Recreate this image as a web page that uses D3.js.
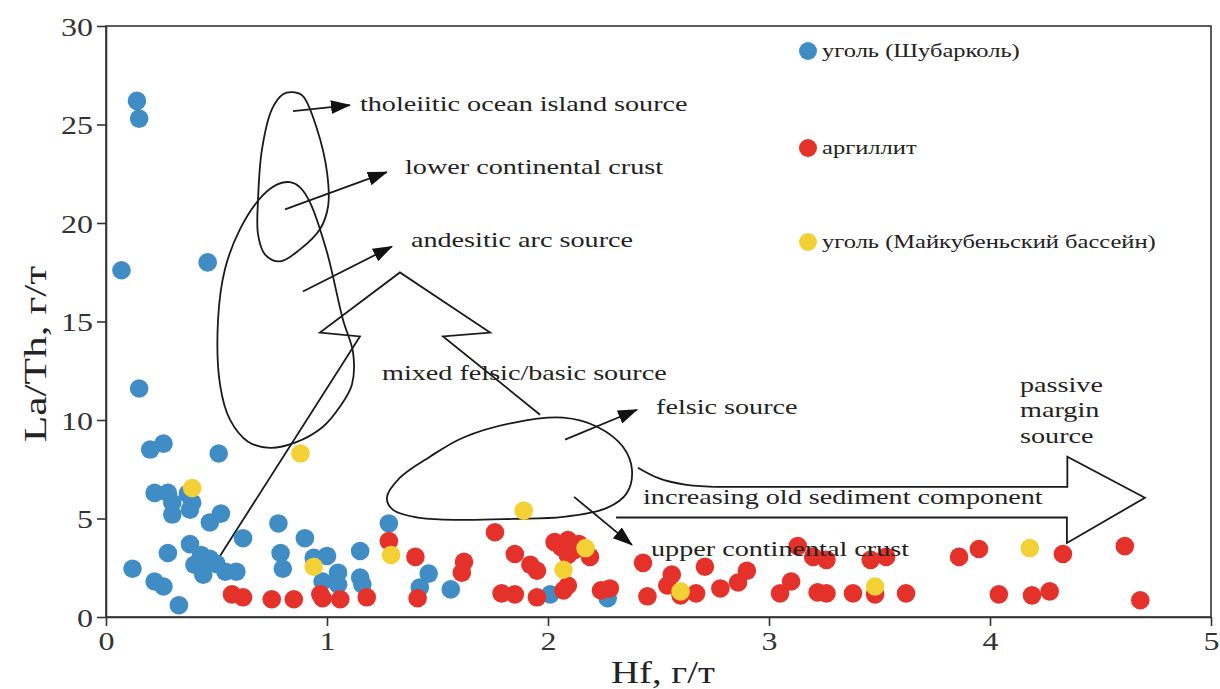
<!DOCTYPE html>
<html>
<head>
<meta charset="utf-8">
<script src="https://cdn.jsdelivr.net/npm/d3@7"></script>
<style>
	body {margin:0; background:#fff;}
	text {font-family:"Liberation Serif","Times New Roman",serif; fill:#222;}
</style>
</head>
<body>
<script>

//axis ticks
var xTicks = [0, 1, 2, 3, 4, 5],
	yTicks = [0, 5, 10, 15, 20, 25, 30];

//уголь (Шубарколь) - Hf and La/Th
var shubHf   = [0.14, 0.15, 0.07, 0.46, 0.15, 0.20, 0.26, 0.51, 0.22, 0.28, 0.37, 0.30, 0.39, 0.30, 0.38, 0.47, 0.52,
	0.62, 0.78, 0.90, 0.28, 0.38, 0.43, 0.47, 0.40, 0.44, 0.54, 0.59, 0.12, 0.22, 0.26, 0.33, 0.79, 0.80, 0.94,
	1.00, 1.05, 0.98, 1.05, 1.15, 1.15, 1.16, 0.50, 1.28, 1.46, 1.42, 1.56, 2.01, 2.27];
var shubLaTh = [26.2, 25.3, 17.6, 18.0, 11.6, 8.5, 8.8, 8.3, 6.3, 6.3, 6.25, 5.8, 5.8, 5.2, 5.45, 4.8, 5.25,
	4.0, 4.75, 4.0, 3.25, 3.7, 3.15, 2.95, 2.65, 2.15, 2.3, 2.3, 2.45, 1.8, 1.55, 0.6, 3.25, 2.45, 3.0,
	3.1, 2.25, 1.8, 1.65, 3.35, 2.0, 1.65, 2.7, 4.75, 2.2, 1.5, 1.4, 1.15, 0.95];

//аргиллит
var argHf   = [0.57, 0.62, 0.75, 0.85, 0.97, 0.98, 1.06, 1.18, 1.28, 1.40, 1.41, 1.62, 1.61, 1.76, 1.85, 1.92, 1.95,
	1.79, 1.85, 1.95, 2.07, 2.09, 2.03, 2.09, 2.09, 2.12, 2.19, 2.06, 2.14, 2.24, 2.28, 2.43, 2.45, 2.56, 2.54,
	2.60, 2.67, 2.71, 2.78, 2.86, 2.90, 3.05, 3.10, 3.13, 3.20, 3.26, 3.46, 3.53, 3.22, 3.26, 3.38, 3.48, 3.62,
	3.86, 3.95, 4.04, 4.19, 4.27, 4.33, 4.61, 4.68];
var argLaTh = [1.15, 1.0, 0.9, 0.9, 1.15, 0.95, 0.9, 1.0, 3.85, 3.05, 0.95, 2.8, 2.25, 4.3, 3.2, 2.65, 2.35,
	1.2, 1.15, 1.0, 1.35, 1.6, 3.8, 3.9, 3.15, 3.4, 3.05, 3.55, 3.7, 1.35, 1.45, 2.75, 1.05, 2.15, 1.6,
	1.1, 1.2, 2.55, 1.45, 1.75, 2.35, 1.2, 1.8, 3.6, 3.05, 2.9, 2.9, 3.05, 1.25, 1.2, 1.2, 1.15, 1.2,
	3.05, 3.45, 1.15, 1.1, 1.3, 3.2, 3.6, 0.85];

//уголь (Майкубеньский бассейн)
var maikHf   = [0.39, 0.88, 0.94, 1.29, 1.89, 2.07, 2.17, 2.60, 3.48, 4.18];
var maikLaTh = [6.55, 8.3, 2.55, 3.15, 5.4, 2.4, 3.5, 1.3, 1.55, 3.5];

var seriesNames  = ["уголь (Шубарколь)", "аргиллит", "уголь (Майкубеньский бассейн)"],
	seriesColors = ["#3f8dc4", "#e4322b", "#f3d135"];

//field outlines (Hf, La/Th)
var tholeiiticLoop = [[0.846,26.64],[0.891,26.44],[0.955,24.76],[1.000,22.58],[1.005,20.85],[0.968,19.68],
	[0.878,18.66],[0.787,18.05],[0.719,18.41],[0.688,19.42],[0.688,21.20],[0.706,23.75],[0.751,25.78],[0.801,26.54]];
var andesiticLoop = [[0.833,22.07],[0.878,21.81],[0.923,21.05],[1.000,18.51],[1.072,15.10],[1.118,13.42],
	[1.113,11.80],[1.059,10.68],[0.982,9.66],[0.855,8.85],[0.742,8.59],[0.643,8.90],[0.561,10.02],[0.516,11.80],
	[0.507,15.10],[0.538,17.64],[0.606,19.68],[0.706,21.36],[0.778,21.97]];
var felsicLoop = [[1.271,6.05],[1.330,7.07],[1.466,8.14],[1.615,9.10],[1.842,9.86],[2.068,10.12],[2.222,9.66],
	[2.339,8.64],[2.380,7.47],[2.357,6.30],[2.267,5.54],[2.068,5.08],[1.842,4.98],[1.615,4.93],[1.421,5.03],[1.299,5.44]];
var mixedArrow = [[0.484,2.54],[1.149,14.24],[0.968,14.44],[1.330,17.49],[1.738,14.44],[1.525,14.24],[1.964,10.27]];
var passiveCurve = [[2.407,7.58],[2.50,7.05],[2.62,6.72],[2.75,6.61]];
var passiveArrow = [[2.75,6.61],[4.350,6.61],[4.350,8.14],[4.701,6.05],[4.348,3.76],[4.348,5.05],[2.308,5.05]];

//small pointer arrows [from, to]
var pointers = [
	[[0.846,25.68],[1.104,25.98]],
	[[0.810,20.69],[1.271,22.58]],
	[[0.891,16.52],[1.294,18.81]],
	[[2.077,9.00],[2.403,10.52]],
	[[2.118,6.10],[2.380,3.66]]
];

//annotation texts
var notes = [
	{t:"tholeiitic ocean island source", x:1.149, y:25.68},
	{t:"lower continental crust", x:1.353, y:22.47},
	{t:"andesitic arc source", x:1.380, y:18.76},
	{t:"mixed felsic/basic source", x:1.249, y:12.05},
	{t:"felsic source", x:2.489, y:10.32},
	{t:"passive", x:4.136, y:11.4},
	{t:"margin", x:4.136, y:10.15},
	{t:"source", x:4.136, y:8.85},
	{t:"increasing old sediment component", x:2.430, y:5.75},
	{t:"upper continental crust", x:2.466, y:3.10}
];

var W = 1220, H = 689,
	stretchK = 1.28;

var svg = d3.select("body").append("svg")
	.attr("width", W)
	.attr("height", H);

var xScale = d3.scaleLinear().domain([0, 5]).range([106, 1211]),
	yScale = d3.scaleLinear().domain([0, 30]).range([617, 26]);

//widen text like the original (its typeface runs wider than Times)
function stretch(sel, k){
	sel.each(function(){
		var w = this.getComputedTextLength();
		d3.select(this).attr("textLength", w*k).attr("lengthAdjust", "spacingAndGlyphs");
	});
}

//frame
svg.append("rect")
	.attr("x", xScale(0))
	.attr("y", yScale(30))
	.attr("width", xScale(5) - xScale(0))
	.attr("height", yScale(0) - yScale(30))
	.style("fill", "none")
	.style("stroke", "#333")
	.style("stroke-width", 1.6);

//axes
var gX = svg.append("g")
	.attr("transform", "translate(0," + yScale(0) + ")")
	.call(d3.axisBottom(xScale).tickValues(xTicks).tickSize(9).tickSizeOuter(0).tickPadding(6).tickFormat(d3.format("d")));
var gY = svg.append("g")
	.attr("transform", "translate(" + xScale(0) + ",0)")
	.call(d3.axisLeft(yScale).tickValues(yTicks).tickSize(9).tickSizeOuter(0).tickPadding(4).tickFormat(d3.format("d")));
[gX, gY].forEach(function(g){
	g.select(".domain").style("stroke", "#333").style("stroke-width", 1.6);
	g.selectAll(".tick line").style("stroke", "#333").style("stroke-width", 1.6);
	g.selectAll(".tick text")
		.style("font-family", "'Liberation Serif', serif")
		.style("font-size", "25px")
		.style("fill", "#333");
	stretch(g.selectAll(".tick text"), stretchK);
});
gY.selectAll(".tick text").attr("dy", "0.36em");

//axis titles
var xt = svg.append("text")
	.attr("x", 663)
	.attr("y", 683)
	.style("text-anchor", "middle")
	.style("font-size", "31px")
	.text("Hf, г/т");
stretch(xt, 1.25);
var yt = svg.append("text")
	.attr("transform", "translate(46,354) rotate(-90)")
	.style("text-anchor", "middle")
	.style("font-size", "31px")
	.text("La/Th, г/т");
stretch(yt, 1.4);

//overlay outlines
var toPx = function(d){ return [xScale(d[0]), yScale(d[1])]; };
var closedLine = d3.line().curve(d3.curveCatmullRomClosed.alpha(0.5)),
	openCurve = d3.line().curve(d3.curveCatmullRom.alpha(0.5)),
	straight = d3.line();

var gOver = svg.append("g")
	.style("fill", "none")
	.style("stroke", "#1a1a1a")
	.style("stroke-width", 1.8);

[tholeiiticLoop, andesiticLoop, felsicLoop].forEach(function(loop){
	gOver.append("path").attr("d", closedLine(loop.map(toPx)));
});
gOver.append("path").attr("d", straight(mixedArrow.map(toPx))).style("stroke-linejoin", "miter");
gOver.append("path").attr("d", openCurve(passiveCurve.map(toPx)));
gOver.append("path").attr("d", straight(passiveArrow.map(toPx))).style("stroke-linejoin", "miter");

//arrowhead marker
svg.append("defs").append("marker")
	.attr("id", "head")
	.attr("markerUnits", "userSpaceOnUse")
	.attr("markerWidth", 20)
	.attr("markerHeight", 16)
	.attr("refX", 19)
	.attr("refY", 7)
	.attr("orient", "auto")
	.append("path")
		.attr("d", "M0,0 L20,7 L0,14 Z")
		.style("fill", "#111");

gOver.selectAll(".pointer")
	.data(pointers).enter()
		.append("line")
		.attr("class", "pointer")
		.attr("x1", function(d){ return xScale(d[0][0]); })
		.attr("y1", function(d){ return yScale(d[0][1]); })
		.attr("x2", function(d){ return xScale(d[1][0]); })
		.attr("y2", function(d){ return yScale(d[1][1]); })
		.style("stroke-width", 1.8)
		.attr("marker-end", "url(#head)");

//points: blue first, then red, yellow on top
var series = [
	{hf:shubHf, lath:shubLaTh, color:seriesColors[0]},
	{hf:argHf, lath:argLaTh, color:seriesColors[1]},
	{hf:maikHf, lath:maikLaTh, color:seriesColors[2]}
];
series.forEach(function(s){
	svg.append("g").selectAll("circle")
		.data(s.hf).enter()
			.append("circle")
			.attr("cx", function(d){ return xScale(d); })
			.attr("cy", function(d, i){ return yScale(s.lath[i]); })
			.attr("r", 9.3)
			.style("fill", s.color);
});

//annotation labels (drawn over the dots like the original)
var noteSel = svg.append("g").selectAll("text")
	.data(notes).enter()
		.append("text")
		.attr("x", function(d){ return xScale(d.x); })
		.attr("y", function(d){ return yScale(d.y); })
		.style("font-size", "22px")
		.text(function(d){ return d.t; });
stretch(noteSel, stretchK);

//legend
var legendY = [51, 148, 242];
var leg = svg.append("g").selectAll("g")
	.data(seriesNames).enter()
		.append("g")
		.attr("transform", function(d, i){ return "translate(808," + legendY[i] + ")"; });
leg.append("circle")
	.attr("r", 9)
	.style("fill", function(d, i){ return seriesColors[i]; });
var legText = leg.append("text")
	.attr("x", 14)
	.attr("y", 6)
	.style("font-size", "19px")
	.text(function(d){ return d; });
stretch(legText, 1.29);

</script>
</body>
</html>
